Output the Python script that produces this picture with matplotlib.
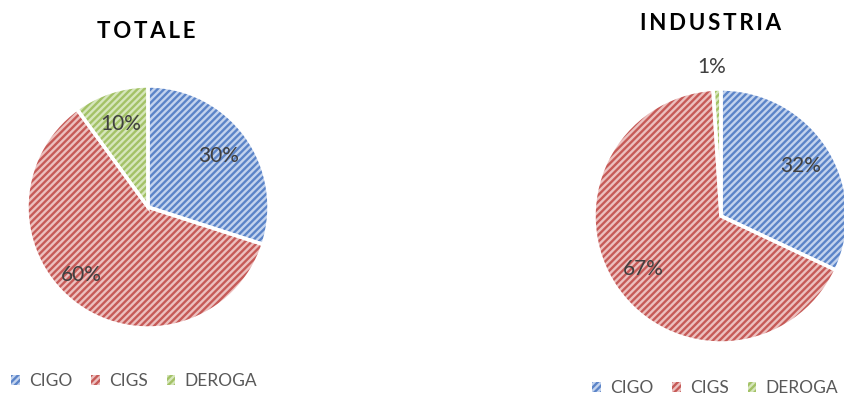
import matplotlib.pyplot as plt

# Share of hours by type of wage guarantee fund
categories = ["CIGO", "CIGS", "DEROGA"]
totale = [30, 60, 10]
industria = [32, 67, 1]

fill_colors = ["#c3d3ee", "#ecc0bf", "#d6e6bc"]
hatch_colors = ["#5b84c8", "#c65a57", "#a3c266"]

plt.rcParams["font.family"] = ["Lato", "DejaVu Sans"]
plt.rcParams["hatch.linewidth"] = 1.7

W, H = 845, 396
fig = plt.figure(figsize=(W / 100, H / 100), dpi=100)


def pie_axes(cx, cy, r):
    # axes box in pixel units, converted to figure fractions
    ax = fig.add_axes([(cx - r) / W, (H - cy - r) / H, 2 * r / W, 2 * r / H])
    ax.set_xlim(-1, 1)
    ax.set_ylim(-1, 1)
    ax.set_aspect("equal")
    ax.axis("off")
    return ax


def draw_pie(ax, values, pctdist):
    wedges, _, autotexts = ax.pie(values, colors=fill_colors, startangle=90,
                                  counterclock=False, radius=1,
                                  autopct="%d%%", pctdistance=pctdist,
                                  wedgeprops=dict(linewidth=0),
                                  textprops=dict(color="#404040", fontsize=15))
    for w, hc in zip(wedges, hatch_colors):
        w.set_hatch("/////")
        w.set_edgecolor(hc)
    # white separators on top
    ax.pie(values, startangle=90, counterclock=False, radius=1,
           wedgeprops=dict(fill=False, edgecolor="white", linewidth=2.5))
    ax.set_xlim(-1, 1)
    ax.set_ylim(-1, 1)
    return wedges, autotexts


def spaced(s):
    return "\u2009".join(s)


title_kw = dict(fontsize=16, fontweight="bold", ha="center", va="center")

ax1 = pie_axes(148, 207, 121)
wedges, autotexts = draw_pie(ax1, totale, 0.72)
autotexts[1].set_position((-0.55, -0.56))
fig.text(146 / W, 1 - 31 / H, spaced("TOTALE"), **title_kw)

ax2 = pie_axes(721, 216, 127)
_, autotexts2 = draw_pie(ax2, industria, 0.74)
autotexts2[2].set_position((-0.07, 1.17))
fig.text(711 / W, 1 - 23 / H, spaced("INDUSTRIA"), **title_kw)

legend_kw = dict(ncol=3, frameon=False, handlelength=0.5, handleheight=0.5,
                 handletextpad=0.5, columnspacing=1.1, fontsize=12.5,
                 labelcolor="#595959")
fig.legend(wedges, categories, loc="center", bbox_to_anchor=(134 / W, 1 - 381 / H),
           **legend_kw)
fig.legend(wedges, categories, loc="center", bbox_to_anchor=(715 / W, 1 - 388 / H),
           **legend_kw)

fig.savefig("out.png", dpi=100)
